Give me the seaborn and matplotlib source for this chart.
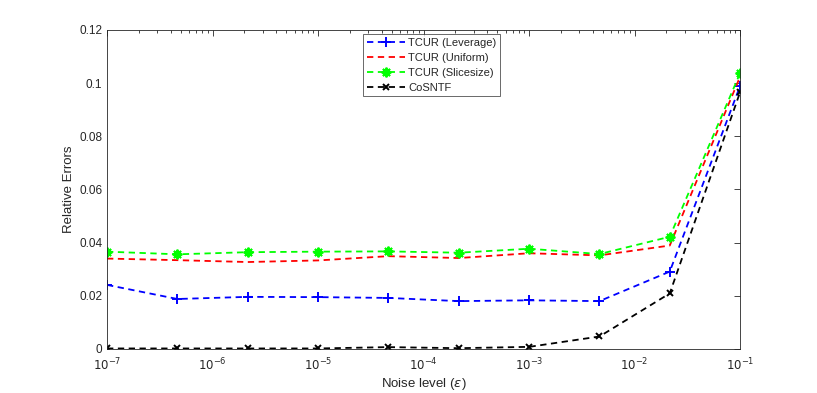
import numpy as np
import pandas as pd
import matplotlib
matplotlib.use("Agg")
import matplotlib.pyplot as plt
import seaborn as sns
from matplotlib.ticker import FixedLocator, NullFormatter

noise = [1e-7, 4.64e-7, 2.15e-6, 1e-5, 4.64e-5, 2.15e-4, 1e-3, 4.64e-3, 2.15e-2, 1e-1]
leverage = [0.0241, 0.0188, 0.0196, 0.0195, 0.0192, 0.0180, 0.0183, 0.0180, 0.0291, 0.0990]
uniform = [0.0340, 0.0334, 0.0327, 0.0333, 0.0349, 0.0342, 0.0360, 0.0352, 0.0389, 0.1025]
slicesize = [0.0366, 0.0356, 0.0364, 0.0366, 0.0367, 0.0362, 0.0377, 0.0357, 0.0422, 0.1038]
cosntf = [0.0002, 0.0002, 0.0002, 0.0002, 0.0007, 0.0003, 0.0008, 0.0047, 0.0209, 0.0967]

labels = ["TCUR (Leverage)", "TCUR (Uniform)", "TCUR (Slicesize)", "CoSNTF"]
series = [leverage, uniform, slicesize, cosntf]
colors = ["#0000ff", "#ff0000", "#00ff00", "#000000"]
markers = ["+", None, (8, 2, 0), "x"]
msizes = [6.5, 0, 7, 5]
xticks = [1e-7, 1e-6, 1e-5, 1e-4, 1e-3, 1e-2, 1e-1]

sns.set_theme(style="white")
plt.rcParams["font.family"] = ["Liberation Sans", "DejaVu Sans"]

fig = plt.figure(figsize=(8.17, 3.93), dpi=100)
ax = fig.add_axes([0.131, 0.112, 0.775, 0.812])

for lab, vals, c, m, ms in zip(labels, series, colors, markers, msizes):
    df = pd.DataFrame({"x": noise, "y": vals})
    kw = dict(marker=m, markersize=ms, markeredgewidth=1.4, markeredgecolor=c,
              markerfacecolor=c) if m else {}
    sns.lineplot(data=df, x="x", y="y", ax=ax, color=c, linestyle=(0, (3.5, 2.5)),
                 linewidth=1.3, label=lab, **kw)

ax.set_xscale("log")
ax.set_xlim(1e-7, 1e-1)
ax.set_ylim(0, 0.12)
ax.set_yticks([0, 0.02, 0.04, 0.06, 0.08, 0.1, 0.12])
ax.set_yticklabels(["0", "0.02", "0.04", "0.06", "0.08", "0.1", "0.12"])
ax.set_xticks(xticks)
ax.set_xticklabels([r"$10^{%d}$" % int(round(np.log10(t))) for t in xticks])
minor = [k * t for t in xticks[:-1] for k in range(2, 10)]
ax.xaxis.set_minor_locator(FixedLocator(minor))
ax.xaxis.set_minor_formatter(NullFormatter())

ax.set_xlabel(r"Noise level ($\epsilon$)", fontsize=9.5, color="#262626", labelpad=2)
ax.set_ylabel("Relative Errors", fontsize=9.5, color="#262626", labelpad=3)

for s in ax.spines.values():
    s.set_visible(True)
    s.set_color("#262626")
    s.set_linewidth(0.6)
ax.tick_params(which="both", direction="in", top=True, right=True, colors="#262626",
               labelsize=8.5, width=0.6)
ax.tick_params(which="major", length=4)
ax.tick_params(which="minor", length=2.5)
ax.tick_params(axis="x", which="major", pad=5.5)

leg = ax.legend(loc="upper center", bbox_to_anchor=(0.513, 0.995), fontsize=8,
                frameon=True, fancybox=False, edgecolor="#262626", handlelength=3.4,
                handletextpad=0.3, borderpad=0.35, labelspacing=0.45, borderaxespad=0.2)
leg.get_frame().set_linewidth(0.6)

fig.savefig("out.png", dpi=100)
